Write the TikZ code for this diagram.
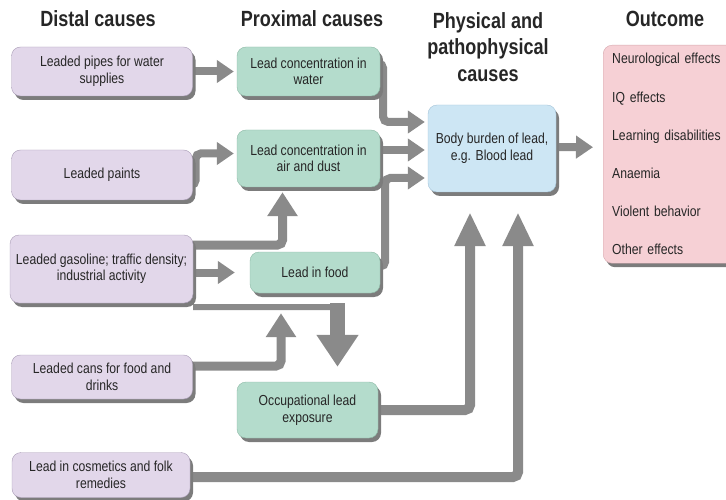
\documentclass[tikz,border=0pt]{standalone}
\usepackage{fontspec}
\usepackage{xcolor}
\usepackage{tikz}
\usetikzlibrary{arrows.meta}
\usetikzlibrary{shadows}
\usetikzlibrary{backgrounds}
\usetikzlibrary{positioning}

\newfontfamily\boxfont[FakeStretch=0.84]{Liberation Sans}
\newfontfamily\headfont[FakeStretch=0.82]{Liberation Sans}

\definecolor{inkgray}{HTML}{262626}
\definecolor{arrowgray}{HTML}{8A8A8A}
\definecolor{shadowgray}{HTML}{7C7C7C}
\definecolor{distal}{HTML}{E2D7EA}
\definecolor{distalline}{HTML}{A99CB6}
\definecolor{proximal}{HTML}{B4DCCC}
\definecolor{proximalline}{HTML}{8DB9A6}
\definecolor{physical}{HTML}{CDE6F4}
\definecolor{physicalline}{HTML}{A3C3D8}
\definecolor{outcome}{HTML}{F6D0D5}
\definecolor{outcomeline}{HTML}{D6A9AF}

\begin{document}
\begin{tikzpicture}[x=1pt, y=-1pt]
        \clip (0,0) rectangle (726,500);
        \tikzstyle{every node}=[text=inkgray]
        \tikzstyle{head}=[font=\headfont\bfseries\fontsize{22}{26.5}\selectfont, align=center]
        \tikzstyle{cbox}=[draw, rounded corners=9pt, align=center, inner sep=2pt,
          font=\boxfont\fontsize{14.5}{16.5}\selectfont,
          drop shadow={shadow xshift=3pt, shadow yshift=-4pt, fill=shadowgray, opacity=1}]
        \tikzstyle{distbox}=[cbox, fill=distal, draw=distalline, minimum width=181pt]
        \tikzstyle{proxbox}=[cbox, fill=proximal, draw=proximalline, minimum width=143pt]
        \tikzstyle{physbox}=[cbox, fill=physical, draw=physicalline]
        \tikzstyle{outbox}=[cbox, fill=outcome, draw=outcomeline]
        \tikzstyle{fat}=[draw=arrowgray, line width=8pt, rounded corners=5pt,
          -{Triangle[width=22pt,length=17pt]}]
        \tikzstyle{upfat}=[fat, line width=9pt, -{Triangle[width=29pt,length=24pt]}]
        \tikzstyle{tallfat}=[fat, line width=10pt, -{Triangle[width=29pt,length=34pt]}]
        \tikzstyle{occfat}=[fat, line width=15pt, -{Triangle[width=40pt,length=32pt]}]

        \node[head, anchor=base] (distal) at (98,27) {Distal causes};
        \node[head, anchor=base] (proximal) at (312,27) {Proximal causes};
        \node[head, anchor=north] (physical) at (488,9) {Physical and\\pathophysical\\causes};
        \node[head, anchor=base] (outcomehead) at (665,27) {Outcome};

        \node[distbox, minimum height=49pt] (pipes) at (102,71.5) {Leaded pipes for water\\supplies};
        \node[distbox, minimum height=50pt] (paints) at (102,175) {Leaded paints};
        \node[distbox, minimum height=68pt, minimum width=183pt] (gasoline) at (101.5,269)
          {Leaded gasoline; traffic density;\\industrial activity};
        \node[distbox, minimum height=44pt] (cans) at (102,377) {Leaded cans for food and\\drinks};
        \node[distbox, minimum height=45pt, minimum width=178pt] (cosmetics) at (101,475)
          {Lead in cosmetics and folk\\remedies};

        \node[proxbox, minimum height=49pt] (water) at (308.5,71.5) {Lead concentration in\\water};
        \node[proxbox, minimum height=57pt] (air) at (308.5,158.5) {Lead concentration in\\air and dust};
        \node[proxbox, minimum height=41pt, minimum width=130pt] (food) at (315,272.5) {Lead in food};
        \node[proxbox, minimum height=56pt, minimum width=141pt] (occupational) at (307.5,410)
          {Occupational lead\\exposure};

        \node[physbox, minimum width=128pt, minimum height=87pt] (burden) at (492,148.5)
          {Body burden of lead,\\e.g. Blood lead};

        \node[outbox, anchor=north west, minimum width=150pt, minimum height=218pt,
          text width=132pt, align=left, inner xsep=9pt] (outcome) at (603,45)
          {Neurological effects\\[21.7pt]IQ effects\\[21.7pt]Learning disabilities\\[21.7pt]Anaemia\\[21.7pt]Violent behavior\\[21.7pt]Other effects};

        \begin{pgfonlayer}{background}
        \draw[fat] (pipes.east) -- ([xshift=-3pt]water.west);
        \draw[fat] ([yshift=-10pt]paints.east) -- ++(3,0) |- ([xshift=-3pt,yshift=5pt]air.west);
        \draw[upfat] ([yshift=24pt]gasoline.east) -| ([xshift=-26pt,yshift=-5pt]air.south);
        \draw[fat] ([yshift=-3.5pt]gasoline.east) -- ([xshift=-15pt]food.west);
        \coordinate (occbend) at ([xshift=30pt,yshift=-4pt]occupational.north |- gasoline.south);
        \draw[fat, line width=6pt, -] ([yshift=-38pt]gasoline.east) -- (occbend);
        \draw[occfat] ([yshift=4pt]occbend) -- ([xshift=30pt,yshift=15pt]occupational.north);
        \draw[upfat] ([yshift=11pt]cans.east) -| ([xshift=-34pt,yshift=-20pt]food.south);
        \draw[fat] ([yshift=8pt]water.east) -- ++(3,0) |- ([xshift=-3pt,yshift=26.5pt]burden.west);
        \draw[fat] ([yshift=8.5pt]air.east) -- ([xshift=-3pt,yshift=-1.5pt]burden.west);
        \draw[fat] ([yshift=6pt]food.east) -- ++(5,0) |- ([xshift=-3pt,yshift=-29.5pt]burden.west);
        \draw[tallfat] (occupational.east) -| ([xshift=-22pt,yshift=-20pt]burden.south);
        \draw[tallfat] ([yshift=-2pt]cosmetics.east) -| ([xshift=26pt,yshift=-20pt]burden.south);
        \draw[fat] ([yshift=1.5pt]burden.east) -- ([xshift=-10pt,yshift=7pt]outcome.west);
        \end{pgfonlayer}
        % \draw[fat] (cans) to [bend left=20] (occupational);
\end{tikzpicture}
\end{document}
